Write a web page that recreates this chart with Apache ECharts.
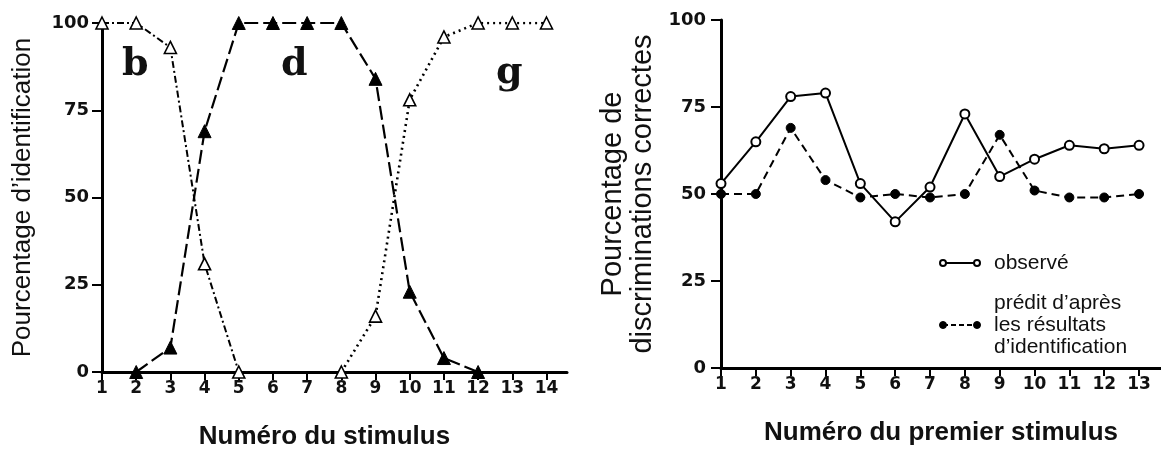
<!DOCTYPE html>
<html>
<head>
<meta charset="utf-8">
<script src="https://cdn.jsdelivr.net/npm/echarts@6/dist/echarts.min.js"></script>
<style>
html,body{margin:0;padding:0;background:#fff;}
#chart{width:1161px;height:453px;}
</style>
</head>
<body>
<div id="chart"></div>
<script>
// ---- data ----
const leftStimuli = [1,2,3,4,5,6,7,8,9,10,11,12,13,14];
const rightStimuli = [1,2,3,4,5,6,7,8,9,10,11,12,13];
const yTicks = [0,25,50,75,100];

const bStim = [1,2,3,4,5];
const bIdent = [100,100,93,31,0];
const dStim = [2,3,4,5,6,7,8,9,10,11,12];
const dIdent = [0,7,69,100,100,100,100,84,23,4,0];
const gStim = [8,9,10,11,12,13,14];
const gIdent = [0,16,78,96,100,100,100];

const observed = [53,65,78,79,53,42,52,73,55,60,64,63,64];
const predicted = [50,50,69,54,49,50,49,50,67,51,49,49,50];

const zip = (xs, ys) => xs.map((x, i) => [x, ys[i]]);

const FONT = 'Liberation Sans';
const tickLabel = {fontFamily: 'DejaVu Sans', fontWeight: 'bold', fontSize: 17, color: '#111'};

function xAxisCfg(grid, max, ticks, name, pad) {
  return {
    type: 'value', gridIndex: grid, min: 1, max: max,
    axisLine: {show: true, onZero: false, lineStyle: {color: '#000', width: 3}},
    axisTick: {show: true, customValues: ticks, length: 8, lineStyle: {color: '#000', width: 2}},
    axisLabel: Object.assign({customValues: ticks, margin: 8}, tickLabel),
    splitLine: {show: false},
    name: name, nameLocation: 'middle', nameGap: 50,
    nameTextStyle: {fontFamily: FONT, fontWeight: 'bold', fontSize: 26, lineHeight: 30, color: '#111', padding: pad}
  };
}
function yAxisCfg(grid, name, gap, margin, fontSize) {
  return {
    type: 'value', gridIndex: grid, min: 0, max: 100,
    axisLine: {show: true, lineStyle: {color: '#000', width: 3}},
    axisTick: {show: true, customValues: yTicks, length: 10, lineStyle: {color: '#000', width: 2}},
    axisLabel: Object.assign({customValues: yTicks, margin: margin}, tickLabel, {fontSize: 18}),
    splitLine: {show: false},
    name: name, nameLocation: 'middle', nameGap: gap, nameRotate: 90,
    nameTextStyle: {fontFamily: FONT, fontSize: fontSize, color: '#111', lineHeight: 30, align: 'center'}
  };
}

const openTri = {color: '#fff', borderColor: '#000', borderWidth: 1.6};
const fillTri = {color: '#000', borderColor: '#000', borderWidth: 1};

const option = {
  backgroundColor: '#fff',
  animation: false,
  grid: [
    {left: 102, top: 23, width: 465, height: 349, containLabel: false, outerBoundsMode: 'none'},
    {left: 721, top: 20, width: 440, height: 348, containLabel: false, outerBoundsMode: 'none'}
  ],
  xAxis: [
    xAxisCfg(0, 14.6, leftStimuli, 'Numéro du stimulus', [0, 20, 0, 0]),
    xAxisCfg(1, 13.63, rightStimuli, 'Numéro du premier stimulus', 0)
  ],
  yAxis: [
    yAxisCfg(0, "Pourcentage d\u2019identification", 64, 13, 26),
    yAxisCfg(1, "Pourcentage de\ndiscriminations correctes", 63, 15, 29)
  ],
  series: [
    {type: 'line', xAxisIndex: 0, yAxisIndex: 0, data: zip(bStim, bIdent),
     symbol: 'triangle', symbolSize: 12, itemStyle: openTri, z: 3,
     lineStyle: {color: '#000', width: 2, type: [7, 3, 2, 3]}},
    {type: 'line', xAxisIndex: 0, yAxisIndex: 0, data: zip(dStim, dIdent),
     symbol: 'triangle', symbolSize: 13, itemStyle: fillTri, z: 4,
     lineStyle: {color: '#000', width: 2.2, type: [14, 5]}},
    {type: 'line', xAxisIndex: 0, yAxisIndex: 0, data: zip(gStim, gIdent),
     symbol: 'triangle', symbolSize: 12, itemStyle: openTri, z: 3,
     lineStyle: {color: '#000', width: 2.6, type: [2, 4]}},
    {type: 'line', xAxisIndex: 1, yAxisIndex: 1, data: zip(rightStimuli, observed),
     symbol: 'circle', symbolSize: 9, itemStyle: {color: '#fff', borderColor: '#000', borderWidth: 2}, z: 4,
     lineStyle: {color: '#000', width: 2}},
    {type: 'line', xAxisIndex: 1, yAxisIndex: 1, data: zip(rightStimuli, predicted),
     symbol: 'circle', symbolSize: 9, itemStyle: {color: '#000', borderColor: '#000', borderWidth: 1}, z: 3,
     lineStyle: {color: '#000', width: 2, type: [8, 5]}}
  ],
  graphic: [
    {type: 'text', left: 122, top: 46, style: {text: 'b', font: 'bold 38px "DejaVu Serif"', fill: '#111'}},
    {type: 'text', left: 281, top: 46, style: {text: 'd', font: 'bold 38px "DejaVu Serif"', fill: '#111'}},
    {type: 'text', left: 496, top: 54, style: {text: 'g', font: 'bold 38px "DejaVu Serif"', fill: '#111'}},
    // legend
    {type: 'line', shape: {x1: 943, y1: 263, x2: 977, y2: 263}, style: {stroke: '#000', lineWidth: 2}},
    {type: 'circle', shape: {cx: 943, cy: 263, r: 3}, style: {fill: '#fff', stroke: '#000', lineWidth: 2}},
    {type: 'circle', shape: {cx: 977, cy: 263, r: 3}, style: {fill: '#fff', stroke: '#000', lineWidth: 2}},
    {type: 'text', x: 994, y: 263, style: {text: 'observé', font: '21px "Liberation Sans"', verticalAlign: 'middle', fill: '#111'}},
    {type: 'line', shape: {x1: 943, y1: 325, x2: 977, y2: 325}, style: {stroke: '#000', lineWidth: 2, lineDash: [5, 3]}},
    {type: 'circle', shape: {cx: 943, cy: 325, r: 3.5}, style: {fill: '#000', stroke: '#000', lineWidth: 1}},
    {type: 'circle', shape: {cx: 977, cy: 325, r: 3.5}, style: {fill: '#000', stroke: '#000', lineWidth: 1}},
    {type: 'text', x: 994, y: 325, style: {text: "prédit d\u2019après\nles résultats\nd\u2019identification", font: '21px "Liberation Sans"', lineHeight: 22, verticalAlign: 'middle', fill: '#111'}}
  ]
};
const chart = echarts.init(document.getElementById('chart'), null, {renderer: 'canvas'});
chart.setOption(option);
</script>
</body>
</html>
